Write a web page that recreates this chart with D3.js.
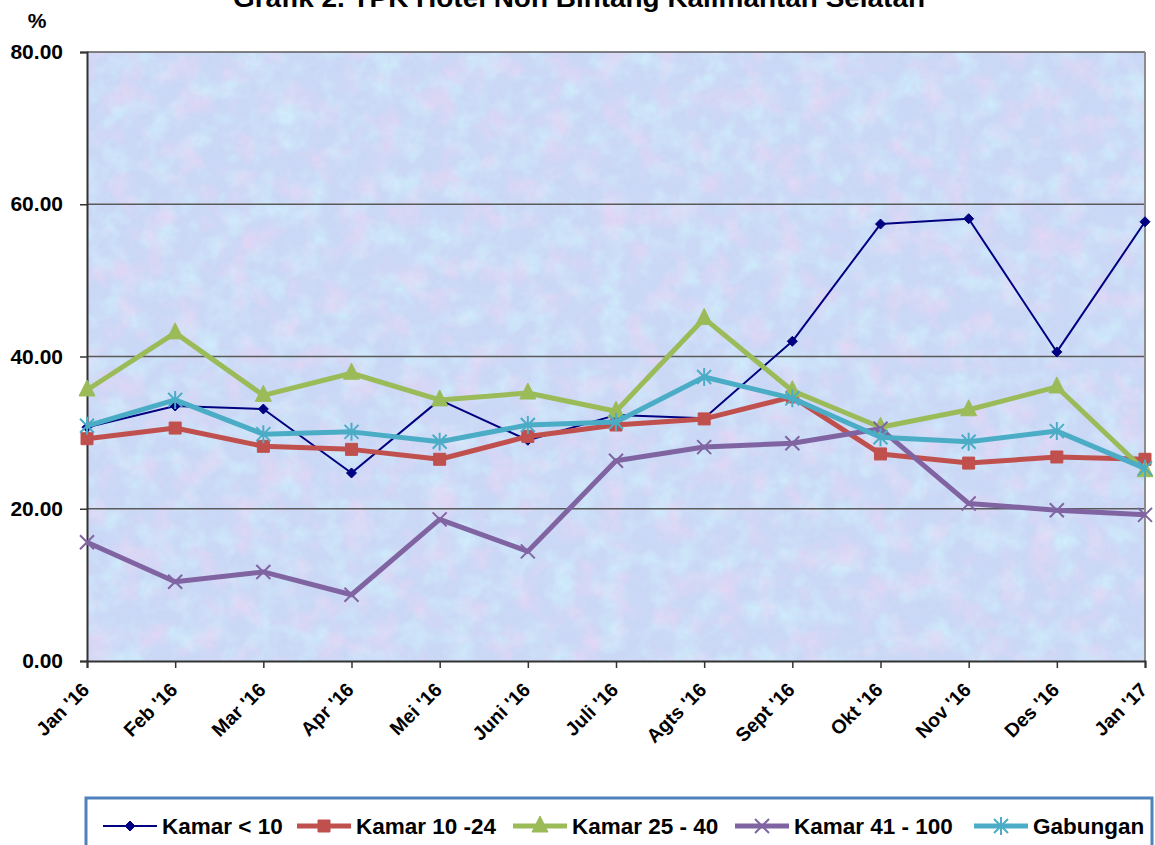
<!DOCTYPE html>
<html><head><meta charset="utf-8">
<script src="https://cdn.jsdelivr.net/npm/d3@7"></script>
<style>
body{margin:0;background:#fff;}
svg{display:block;font-family:"Liberation Sans",Arial,sans-serif;font-weight:bold;}
</style></head>
<body><svg id="c" width="1155" height="845"></svg>
<script>
const categories = ["Jan '16","Feb '16","Mar '16","Apr '16","Mei '16","Juni '16","Juli '16","Agts '16","Sept '16","Okt '16","Nov '16","Des '16","Jan '17"];
const kamarLt10   = [30.7,33.5,33.1,24.7,34.3,29.0,32.3,31.9,42.0,57.4,58.1,40.6,57.7];
const kamar10_24  = [29.2,30.6,28.2,27.8,26.5,29.5,31.0,31.8,34.7,27.2,26.0,26.8,26.5];
const kamar25_40  = [35.6,43.1,34.9,37.8,34.3,35.2,32.8,45.0,35.5,30.7,33.0,36.0,25.0];
const kamar41_100 = [15.6,10.4,11.7,8.7,18.6,14.4,26.3,28.1,28.6,30.5,20.7,19.8,19.2];
const gabungan    = [30.9,34.3,29.8,30.1,28.8,31.0,31.4,37.3,34.5,29.4,28.8,30.2,25.3];
const yTicks = [0,20,40,60,80];
const seriesNames = ["Kamar < 10","Kamar 10 -24","Kamar 25 - 40","Kamar 41 - 100","Gabungan"];
const titleText = "Grafik 2.  TPK Hotel Non Bintang Kalimantan Selatan";

const series = [
  {name:seriesNames[0], values:kamarLt10,   color:"#000080", width:2, marker:"diamond"},
  {name:seriesNames[1], values:kamar10_24,  color:"#c0504d", width:5, marker:"square"},
  {name:seriesNames[2], values:kamar25_40,  color:"#9bbb59", width:5, marker:"triangle"},
  {name:seriesNames[3], values:kamar41_100, color:"#8064a2", width:5, marker:"x"},
  {name:seriesNames[4], values:gabungan,    color:"#4bacc6", width:5, marker:"star"}
];

const svg = d3.select("#c");
const L=87, R=1145, T=52, B=661;
const x = d3.scalePoint().domain(categories).range([L,R]);
const y = d3.scaleLinear().domain([0,80]).range([B,T]);

// textured pastel background
const defs = svg.append("defs");
const f = defs.append("filter").attr("id","tex").attr("x",0).attr("y",0).attr("width",1).attr("height",1)
  .attr("color-interpolation-filters","sRGB");
f.append("feFlood").attr("flood-color","#cbd9f6").attr("result","base");
f.append("feTurbulence").attr("type","fractalNoise").attr("baseFrequency","0.035").attr("numOctaves",3).attr("seed",3).attr("result","n1");
f.append("feColorMatrix").attr("in","n1").attr("type","matrix")
 .attr("values","0 0 0 0 0.92  0 0 0 0 0.84  0 0 0 0 0.96  1.8 0 0 0 -0.85").attr("result","pink");
f.append("feTurbulence").attr("type","fractalNoise").attr("baseFrequency","0.04").attr("numOctaves",3).attr("seed",11).attr("result","n2");
f.append("feColorMatrix").attr("in","n2").attr("type","matrix")
 .attr("values","0 0 0 0 0.82  0 0 0 0 0.94  0 0 0 0 0.99  2.0 0 0 0 -0.85").attr("result","cyan");
f.append("feTurbulence").attr("type","fractalNoise").attr("baseFrequency","0.25").attr("numOctaves",2).attr("seed",5).attr("result","n3");
f.append("feColorMatrix").attr("in","n3").attr("type","matrix")
 .attr("values","0 0 0 0 0.76  0 0 0 0 0.82  0 0 0 0 0.96  0.8 0 0 0 -0.35").attr("result","grain");
f.append("feGaussianBlur").attr("in","grain").attr("stdDeviation",0.8).attr("result","grainb");
const m = f.append("feMerge");
m.append("feMergeNode").attr("in","base");
m.append("feMergeNode").attr("in","cyan");
m.append("feMergeNode").attr("in","pink");
m.append("feMergeNode").attr("in","grainb");

svg.append("rect").attr("x",L).attr("y",T).attr("width",R-L).attr("height",B-T).attr("fill","#cbd9f6").attr("filter","url(#tex)");

// gridlines
svg.append("g").selectAll("line").data(yTicks.filter(d=>d>0)).join("line")
  .attr("x1",L).attr("x2",R).attr("y1",d=>y(d)).attr("y2",d=>y(d))
  .attr("stroke","#5a5a5a").attr("stroke-width",1.5);
// right border
svg.append("line").attr("x1",R).attr("x2",R).attr("y1",T).attr("y2",B).attr("stroke","#8c8c8c").attr("stroke-width",2);

// y axis
const ya = svg.append("g").attr("transform",`translate(${L},0)`)
  .call(d3.axisLeft(y).tickValues(yTicks).tickFormat(d3.format(".2f")).tickSize(7).tickPadding(17));
ya.select(".domain").attr("stroke","#333").attr("stroke-width",2);
ya.selectAll(".tick line").attr("stroke","#333").attr("stroke-width",1.5);
ya.selectAll("text").attr("font-size",21).attr("font-weight","bold").attr("fill","#000")
  .attr("font-family","Liberation Sans, Arial, sans-serif");

// x axis
const xa = svg.append("g").attr("transform",`translate(0,${B})`)
  .call(d3.axisBottom(x).tickSize(7));
xa.select(".domain").attr("stroke","#333").attr("stroke-width",2);
xa.selectAll(".tick line").attr("stroke","#333").attr("stroke-width",1.5);
xa.selectAll("text").attr("font-size",19.5).attr("font-weight","bold").attr("fill","#000")
  .attr("font-family","Liberation Sans, Arial, sans-serif")
  .attr("text-anchor","end").attr("x",0).attr("y",0).attr("dy","0")
  .attr("transform","translate(3,30) rotate(-45)");

// % label
svg.append("text").attr("x",37).attr("y",28).attr("text-anchor","middle").attr("font-size",21).text("%");
// title (cut at top edge, as in the original)
svg.append("text").attr("x",579).attr("y",7).attr("text-anchor","middle").attr("font-size",26)
  .attr("textLength",692).attr("lengthAdjust","spacingAndGlyphs").text(titleText);

function markerPath(type){
  switch(type){
    case "diamond": return "M0,-5L5,0L0,5L-5,0Z";
    case "square": return "M-6,-6H6V6H-6Z";
    case "triangle": return "M0,-10L8,6H-8Z";
    case "x": return "M-7,-7L7,7M-7,7L7,-7";
    case "star": return "M-7,-7L7,7M-7,7L7,-7M0,-9V9";
  }
}
function drawMarker(g,s,cx,cy){
  const p = g.append("path").attr("d",markerPath(s.marker)).attr("transform",`translate(${cx},${cy})`);
  if(s.marker==="x"||s.marker==="star") p.attr("fill","none").attr("stroke",s.color).attr("stroke-width",2);
  else p.attr("fill",s.color).attr("stroke",s.color).attr("stroke-width",1);
}

const line = d3.line().x((d,i)=>x(categories[i])).y(d=>y(d));
const plot = svg.append("g");
series.forEach(s=>{
  const g = plot.append("g");
  g.append("path").attr("d",line(s.values)).attr("fill","none").attr("stroke",s.color)
   .attr("stroke-width",s.width).attr("stroke-linejoin","round");
  s.values.forEach((v,i)=>drawMarker(g,s,x(categories[i]),y(v)));
});

// legend
svg.append("rect").attr("x",86).attr("y",798).attr("width",1066).attr("height",80)
  .attr("fill","#fff").attr("stroke","#4f81bd").attr("stroke-width",3);
const legX = [103,297,513,735,974];
const legY = 826;
series.forEach((s,i)=>{
  const g = svg.append("g");
  g.append("line").attr("x1",legX[i]).attr("x2",legX[i]+54).attr("y1",legY).attr("y2",legY)
   .attr("stroke",s.color).attr("stroke-width",s.width);
  drawMarker(g,s,legX[i]+27,legY);
  g.append("text").attr("x",legX[i]+59).attr("y",legY).attr("dy","0.36em").attr("font-size",22.5).text(s.name);
});
</script></body></html>
